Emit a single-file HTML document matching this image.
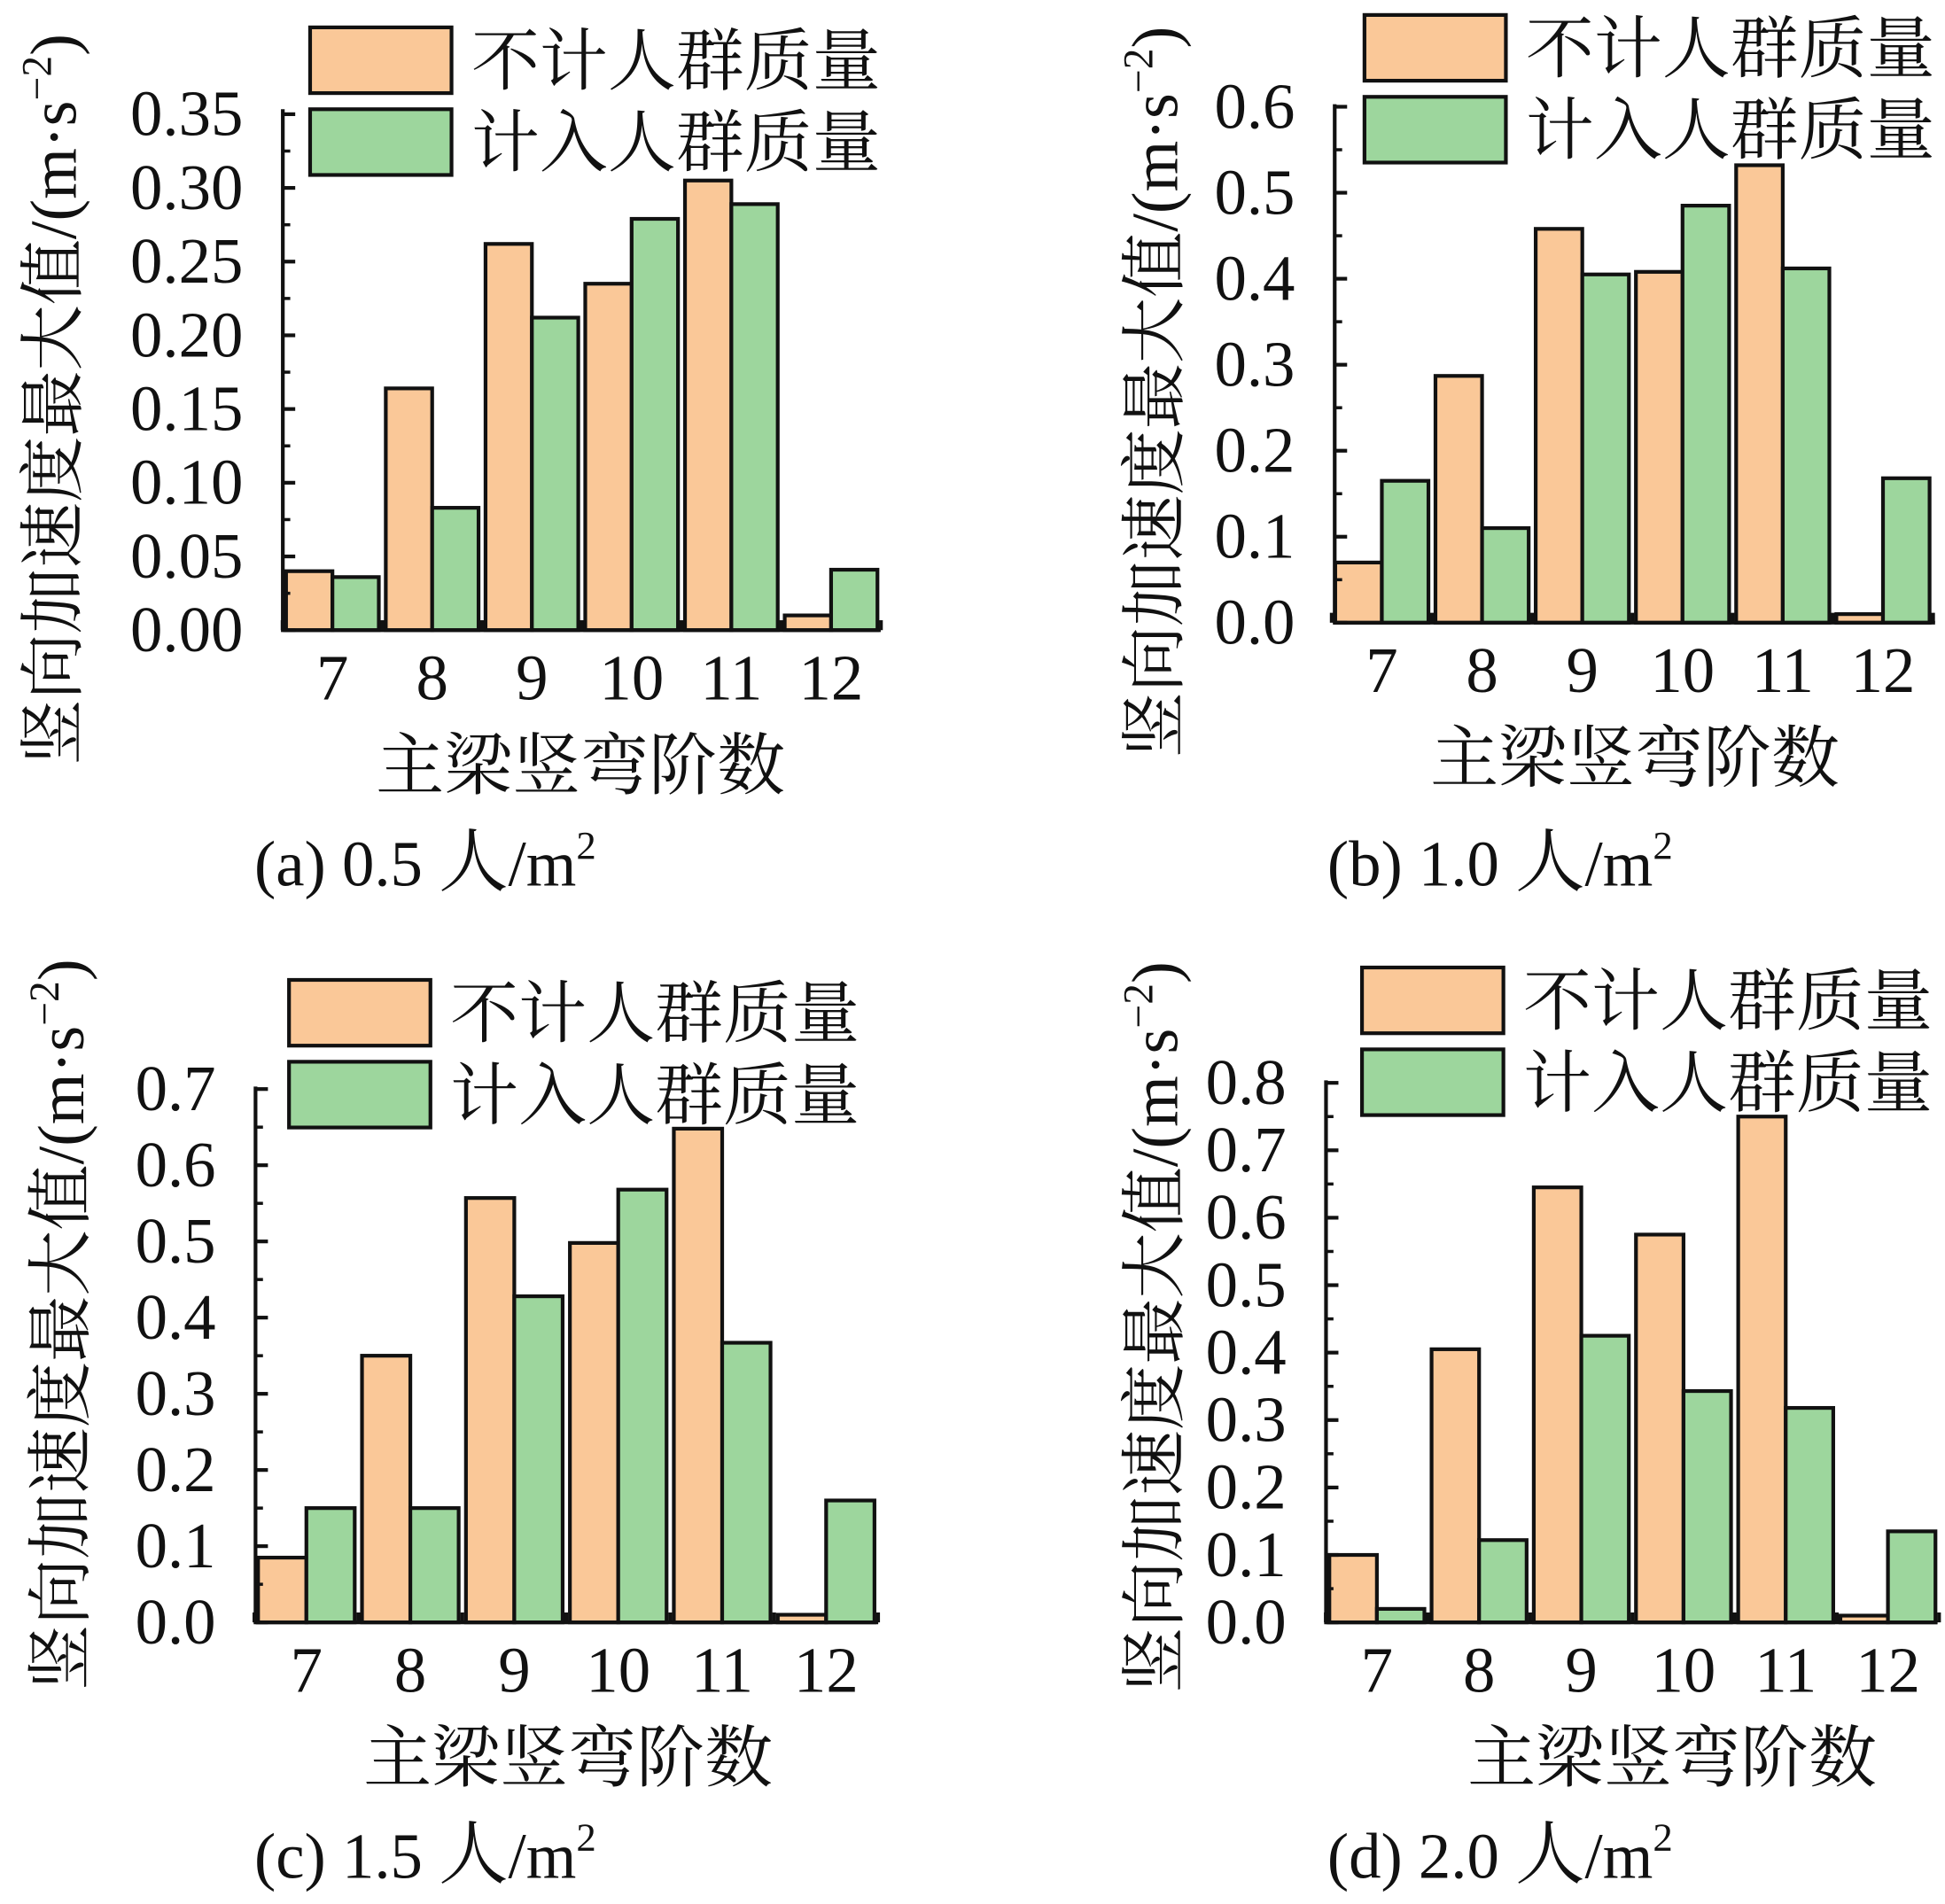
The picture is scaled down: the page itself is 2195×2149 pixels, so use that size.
<!DOCTYPE html>
<html><head><meta charset="utf-8"><style>
html,body{margin:0;padding:0;background:#fff;}
svg{display:block;}
text{font-family:"Liberation Serif","Noto Serif CJK SC",serif;fill:#111;}
.cjk{font-family:"Noto Serif CJK SC","Liberation Serif",serif;}
</style></head><body>
<svg id="fig" width="2195" height="2149" viewBox="0 0 1568 1535" xmlns="http://www.w3.org/2000/svg"></svg>
<script>
const categories = ["7","8","9","10","11","12"];
const aNoMass = [0.040,0.164,0.262,0.235,0.305,0.010];
const aWithMass = [0.036,0.083,0.212,0.279,0.289,0.041];
const aTicks = ["0.00","0.05","0.10","0.15","0.20","0.25","0.30","0.35"];
const bNoMass = [0.070,0.287,0.458,0.408,0.532,0.010];
const bWithMass = [0.165,0.110,0.405,0.485,0.412,0.168];
const bTicks = ["0.0","0.1","0.2","0.3","0.4","0.5","0.6"];
const cNoMass = [0.085,0.350,0.557,0.498,0.648,0.010];
const cWithMass = [0.150,0.150,0.428,0.568,0.367,0.160];
const cTicks = ["0.0","0.1","0.2","0.3","0.4","0.5","0.6","0.7"];
const dNoMass = [0.100,0.405,0.645,0.575,0.750,0.010];
const dWithMass = [0.020,0.122,0.425,0.343,0.318,0.135];
const dTicks = ["0.0","0.1","0.2","0.3","0.4","0.5","0.6","0.7","0.8"];

const NS="http://www.w3.org/2000/svg";
const svg=document.getElementById('fig');
function mk(tag,attrs,parent){const e=document.createElementNS(NS,tag);for(const k in attrs)e.setAttribute(k,attrs[k]);(parent||svg).appendChild(e);return e;}

const panels=[
 {id:'a',no:aNoMass,wi:aWithMass,ticks:aTicks,L:228,R:710,Y0:508,Ytop:92,axTop:88,c0:268,dc:80.4,lgx:250,lgy:22,ytx:42,yty:322,xtc:468,cap:"(a) 0.5 ",capx:205,capy:714},
 {id:'b',no:bNoMass,wi:bWithMass,ticks:bTicks,L:1076,R:1560,Y0:502,Ytop:86,axTop:84,c0:1114,dc:80.8,lgx:1100,lgy:12,ytx:930,yty:316,xtc:1318,cap:"(b) 1.0 ",capx:1070,capy:714},
 {id:'c',no:cNoMass,wi:cWithMass,ticks:cTicks,L:206,R:708,Y0:1308,Ytop:878,axTop:876,c0:247,dc:83.8,lgx:233,lgy:790,ytx:48,yty:1068,xtc:458,cap:"(c) 1.5 ",capx:205,capy:1514},
 {id:'d',no:dNoMass,wi:dWithMass,ticks:dTicks,L:1069,R:1562,Y0:1308,Ytop:873,axTop:871,c0:1110,dc:82.4,lgx:1098,lgy:780,ytx:930,yty:1070,xtc:1348,cap:"(d) 2.0 ",capx:1070,capy:1514}
];

panels.forEach(p=>{
 const g=mk('g',{});
 
 
 const maxV=parseFloat(p.ticks[p.ticks.length-1]);
 const y=v=>p.Y0-(v/maxV)*(p.Y0-p.Ytop);
 const x=i=>p.c0+i*p.dc;
 const bw=p.dc*0.465;
 categories.forEach((c,i)=>{
  const r1=mk('rect',{x:x(i)-bw,y:y(p.no[i]),width:bw,height:p.Y0-y(p.no[i]),fill:'#fac898',stroke:'#111','stroke-width':3},g);
  
  
  const r2=mk('rect',{x:x(i),y:y(p.wi[i]),width:bw,height:p.Y0-y(p.wi[i]),fill:'#9dd69d',stroke:'#111','stroke-width':3},g);
  
  
  const t=mk('text',{x:x(i),y:p.Y0+56,'font-size':52,'text-anchor':'middle'},g);
  t.textContent=c;
  
  
 });
 const ax=mk('path',{d:`M${p.L},${p.axTop} L${p.L},${p.Y0} L${p.R},${p.Y0}`,fill:'none',stroke:'#111','stroke-width':3},g);
 
 
 p.ticks.forEach((tk,k)=>{
  const v=parseFloat(tk);const yy=y(v);
  mk('line',{x1:p.L,x2:p.L+10,y1:yy,y2:yy,stroke:'#111','stroke-width':3},g);
  if(k<p.ticks.length-1){const ym=y(v+maxV/(p.ticks.length-1)/2);mk('line',{x1:p.L,x2:p.L+6,y1:ym,y2:ym,stroke:'#111','stroke-width':2.5},g);}
  const t=mk('text',{x:p.L-32,y:yy+17,'font-size':52,'text-anchor':'end'},g);
  t.textContent=tk;
  
  
 });
 for(let i=0;i<=6;i++){const xx=p.c0-p.dc/2+i*p.dc;mk('line',{x1:xx,x2:xx,y1:p.Y0,y2:p.Y0-8,stroke:'#111','stroke-width':3},g);}
 const lg=mk('g',{},g);
 
 
 const items=[['不计人群质量','#fac898'],['计入人群质量','#9dd69d']];
 items.forEach((it,k)=>{
  const yy=p.lgy+k*66;
  mk('rect',{x:p.lgx,y:yy,width:114,height:53,fill:it[1],stroke:'#111','stroke-width':3},lg);
  const t=mk('text',{x:p.lgx+130,y:yy+46,'font-size':55,class:'cjk'},lg);
  t.textContent=it[0];
  
  
 });
 const yt=mk('text',{x:0,y:0,'font-size':53,'text-anchor':'middle',transform:`translate(${p.ytx+19},${p.yty}) rotate(-90)`},g);
 yt.innerHTML='<tspan class="cjk">竖向加速度最大值</tspan>/(m·s<tspan font-size="34" dy="-20">−2</tspan><tspan dy="20">)</tspan>';
 
 
 const xt=mk('text',{x:p.xtc,y:p.Y0+128,'font-size':55,'text-anchor':'middle',class:'cjk'},g);
 xt.textContent='主梁竖弯阶数';
 
 
 const cp=mk('text',{x:p.capx,y:p.capy,'font-size':52},g);
 cp.innerHTML=p.cap+'<tspan class="cjk" font-size="56">人</tspan>/m<tspan font-size="32" dy="-22">2</tspan>';
 
 
});
</script>
</body></html>
